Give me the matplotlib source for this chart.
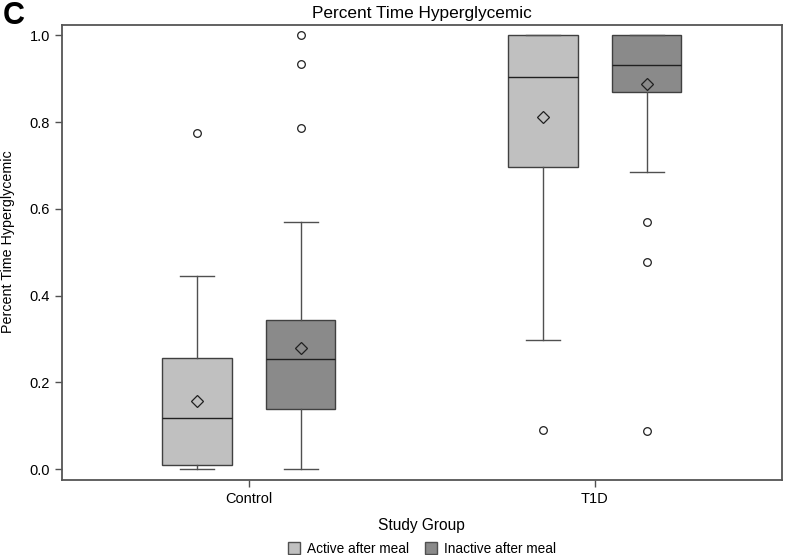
import matplotlib.pyplot as plt
from matplotlib.patches import Patch

plt.rcParams["font.family"] = ["Liberation Sans", "DejaVu Sans"]

groups = ["Control", "T1D"]
series = ["Active after meal", "Inactive after meal"]

# box statistics, one entry per group
active_whislo = [0.0, 0.299]
active_q1 = [0.010, 0.697]
active_med = [0.117, 0.903]
active_q3 = [0.257, 1.0]
active_whishi = [0.445, 1.0]
active_mean = [0.158, 0.813]
active_fliers = [[0.774], [0.090]]

inactive_whislo = [0.0, 0.684]
inactive_q1 = [0.138, 0.869]
inactive_med = [0.255, 0.931]
inactive_q3 = [0.344, 1.0]
inactive_whishi = [0.570, 1.0]
inactive_mean = [0.279, 0.889]
inactive_fliers = [[0.786, 0.934, 1.0], [0.569, 0.478, 0.088]]

COLORS = ["#c0c0c0", "#8a8a8a"]
EDGE = "#404040"


def make_stats(whislo, q1, med, q3, whishi, mean, fliers):
    return [
        dict(whislo=whislo[i], q1=q1[i], med=med[i], q3=q3[i],
             whishi=whishi[i], mean=mean[i], fliers=fliers[i])
        for i in range(len(groups))
    ]


stats = [
    make_stats(active_whislo, active_q1, active_med, active_q3,
               active_whishi, active_mean, active_fliers),
    make_stats(inactive_whislo, inactive_q1, inactive_med, inactive_q3,
               inactive_whishi, inactive_mean, inactive_fliers),
]

fig = plt.figure(figsize=(7.85, 5.55), dpi=100)
ax = fig.add_axes([0.079, 0.135, 0.917, 0.82])

offsets = [-0.15, 0.15]
for k in range(2):
    positions = [g + offsets[k] for g in range(len(groups))]
    ax.bxp(
        stats[k], positions=positions, widths=0.2, capwidths=0.1,
        showmeans=True, patch_artist=True,
        boxprops=dict(facecolor=COLORS[k], edgecolor=EDGE, linewidth=1.0),
        medianprops=dict(color="#202020", linewidth=1.0),
        whiskerprops=dict(color="#505050", linewidth=1.0),
        capprops=dict(color="#505050", linewidth=1.0),
        flierprops=dict(marker="o", markerfacecolor="white",
                        markeredgecolor="#202020", markersize=5.5,
                        markeredgewidth=0.9),
        meanprops=dict(marker="D", markerfacecolor="none",
                       markeredgecolor="#202020", markersize=6.5,
                       markeredgewidth=0.9),
    )

ax.set_xlim(-0.54, 1.54)
ax.set_ylim(-0.025, 1.024)
ax.set_xticks(range(len(groups)))
ax.set_xticklabels(groups)
ax.set_yticks([0.0, 0.2, 0.4, 0.6, 0.8, 1.0])
ax.set_yticklabels(["0.0", "0.2", "0.4", "0.6", "0.8", "1.0"])
ax.tick_params(axis="both", labelsize=10.5, colors="#505050",
               labelcolor="black", length=5, width=1)
for spine in ax.spines.values():
    spine.set_color("#555555")
    spine.set_linewidth(1.3)

ax.set_ylabel("Percent Time Hyperglycemic", fontsize=10.3)
ax.yaxis.set_label_coords(-0.066, 0.523)
ax.set_title("Percent Time Hyperglycemic", fontsize=12.4, pad=5)
fig.text(0.5375, 0.054, "Study Group", ha="center", va="center", fontsize=11.2)
fig.text(0.004, 0.998, "C", ha="left", va="top", fontsize=22,
         fontweight="bold")

handles = [Patch(facecolor=COLORS[k], edgecolor="#505050", label=series[k])
           for k in range(2)]
fig.legend(handles=handles, loc="center", bbox_to_anchor=(0.5375, 0.0115),
           ncol=2, frameon=False, fontsize=9.8, handlelength=0.9,
           handleheight=0.9, handletextpad=0.5, columnspacing=1.2)

fig.savefig("out.png", dpi=100)
